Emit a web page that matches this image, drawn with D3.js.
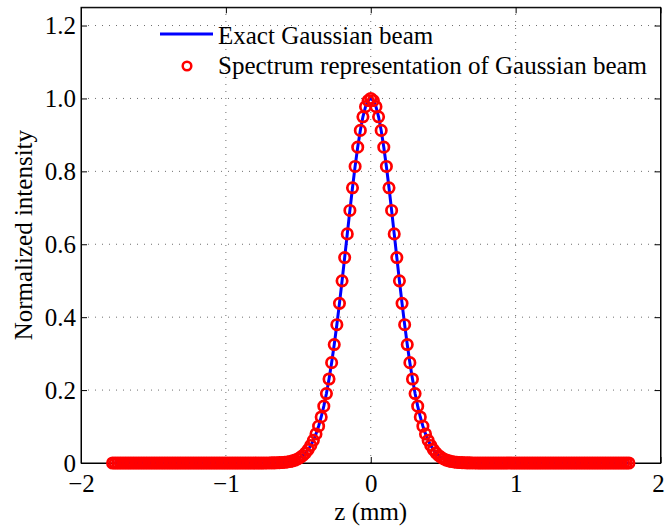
<!DOCTYPE html>
<html>
<head>
<meta charset="utf-8">
<script src="https://cdn.jsdelivr.net/npm/d3@7"></script>
<style>
  html, body { margin: 0; padding: 0; background: #fff; }
  svg { display: block; font-family: "Liberation Serif", "Times New Roman", serif; }
</style>
</head>
<body>
<svg id="chart" width="665" height="527"></svg>
<script>
// ---------- data ----------
const xTicks = [-2, -1, 0, 1, 2];
const xTickLabels = ["\u22122", "\u22121", "0", "1", "2"];
const yTicks = [0, 0.2, 0.4, 0.6, 0.8, 1.0, 1.2];
const yTickLabels = ["0", "0.2", "0.4", "0.6", "0.8", "1.0", "1.2"];
const xLabel = "z (mm)";
const yLabel = "Normalized intensity";
const seriesNames = ["Exact Gaussian beam", "Spectrum representation of Gaussian beam"];

// sample positions (mm)
const zSamples = [
 -1.782,-1.764,-1.746,-1.728,-1.71,-1.692,-1.674,-1.656,-1.638,-1.62,
 -1.602,-1.584,-1.566,-1.548,-1.53,-1.512,-1.494,-1.476,-1.458,-1.44,
 -1.422,-1.404,-1.386,-1.368,-1.35,-1.332,-1.314,-1.296,-1.278,-1.26,
 -1.242,-1.224,-1.206,-1.188,-1.17,-1.152,-1.134,-1.116,-1.098,-1.08,
 -1.062,-1.044,-1.026,-1.008,-0.99,-0.972,-0.954,-0.936,-0.918,-0.9,
 -0.882,-0.864,-0.846,-0.828,-0.81,-0.792,-0.774,-0.756,-0.738,-0.72,
 -0.702,-0.684,-0.666,-0.648,-0.63,-0.612,-0.594,-0.576,-0.558,-0.54,
 -0.522,-0.504,-0.486,-0.468,-0.45,-0.432,-0.414,-0.396,-0.378,-0.36,
 -0.342,-0.324,-0.306,-0.288,-0.27,-0.252,-0.234,-0.216,-0.198,-0.18,
 -0.162,-0.144,-0.126,-0.108,-0.09,-0.072,-0.054,-0.036,-0.018,0,
 0.018,0.036,0.054,0.072,0.09,0.108,0.126,0.144,0.162,0.18,
 0.198,0.216,0.234,0.252,0.27,0.288,0.306,0.324,0.342,0.36,
 0.378,0.396,0.414,0.432,0.45,0.468,0.486,0.504,0.522,0.54,
 0.558,0.576,0.594,0.612,0.63,0.648,0.666,0.684,0.702,0.72,
 0.738,0.756,0.774,0.792,0.81,0.828,0.846,0.864,0.882,0.9,
 0.918,0.936,0.954,0.972,0.99,1.008,1.026,1.044,1.062,1.08,
 1.098,1.116,1.134,1.152,1.17,1.188,1.206,1.224,1.242,1.26,
 1.278,1.296,1.314,1.332,1.35,1.368,1.386,1.404,1.422,1.44,
 1.458,1.476,1.494,1.512,1.53,1.548,1.566,1.584,1.602,1.62,
 1.638,1.656,1.674,1.692,1.71,1.728,1.746,1.764,1.782
];

// spectrum-representation intensity (markers)
const spectrumIntensity = [
 0,0,0,0,0,0,0,0,0,0,
 0,0,0,0,0,0,0,0,0,0,
 0,0,0,0,0,0,0,0,0,0,
 0,0,0,0,0,0,0,0,0,0,
 0,0,0,0,0,0,0,0,0,0,
 0,0,0,0,0,0,0,0,0,0.0001,
 0.0002,0.0003,0.0004,0.0006,0.0009,0.0013,0.0019,0.0028,0.0040,0.0057,
 0.0080,0.0111,0.0153,0.0207,0.0278,0.0368,0.0481,0.0623,0.0797,0.1009,
 0.1262,0.1560,0.1906,0.2304,0.2752,0.3250,0.3794,0.4379,0.4996,0.5636,
 0.6284,0.6928,0.7550,0.8135,0.8664,0.9123,0.9497,0.9773,0.9943,1.0,
 0.9943,0.9773,0.9497,0.9123,0.8664,0.8135,0.7550,0.6928,0.6284,0.5636,
 0.4996,0.4379,0.3794,0.3250,0.2752,0.2304,0.1906,0.1560,0.1262,0.1009,
 0.0797,0.0623,0.0481,0.0368,0.0278,0.0207,0.0153,0.0111,0.0080,0.0057,
 0.0040,0.0028,0.0019,0.0013,0.0009,0.0006,0.0004,0.0003,0.0002,0.0001,
 0,0,0,0,0,0,0,0,0,0,
 0,0,0,0,0,0,0,0,0,0,
 0,0,0,0,0,0,0,0,0,0,
 0,0,0,0,0,0,0,0,0,0,
 0,0,0,0,0,0,0,0,0,0,
 0,0,0,0,0,0,0,0,0
];

// exact Gaussian beam (line)
const zExact = [
 -1.782,-0.738,-0.72,-0.702,-0.684,-0.666,-0.648,-0.63,-0.612,-0.594,-0.576,-0.558,-0.54,
 -0.522,-0.504,-0.486,-0.468,-0.45,-0.432,-0.414,-0.396,-0.378,-0.36,
 -0.342,-0.324,-0.306,-0.288,-0.27,-0.252,-0.234,-0.216,-0.198,-0.18,
 -0.162,-0.144,-0.126,-0.108,-0.09,-0.072,-0.054,-0.036,-0.018,0,
 0.018,0.036,0.054,0.072,0.09,0.108,0.126,0.144,0.162,0.18,
 0.198,0.216,0.234,0.252,0.27,0.288,0.306,0.324,0.342,0.36,
 0.378,0.396,0.414,0.432,0.45,0.468,0.486,0.504,0.522,0.54,
 0.558,0.576,0.594,0.612,0.63,0.648,0.666,0.684,0.702,0.72,0.738,1.782
];
const exactIntensity = [
 0,0,0.0001,
 0.0002,0.0003,0.0004,0.0006,0.0009,0.0013,0.0019,0.0028,0.0040,0.0057,
 0.0080,0.0111,0.0153,0.0207,0.0278,0.0368,0.0481,0.0623,0.0797,0.1009,
 0.1262,0.1560,0.1906,0.2304,0.2752,0.3250,0.3794,0.4379,0.4996,0.5636,
 0.6284,0.6928,0.7550,0.8135,0.8664,0.9123,0.9497,0.9773,0.9943,1.0,
 0.9943,0.9773,0.9497,0.9123,0.8664,0.8135,0.7550,0.6928,0.6284,0.5636,
 0.4996,0.4379,0.3794,0.3250,0.2752,0.2304,0.1906,0.1560,0.1262,0.1009,
 0.0797,0.0623,0.0481,0.0368,0.0278,0.0207,0.0153,0.0111,0.0080,0.0057,
 0.0040,0.0028,0.0019,0.0013,0.0009,0.0006,0.0004,0.0003,0.0002,0.0001,0,0
];

// ---------- layout ----------
const plot = { left: 81, right: 660.5, top: 7.3, bottom: 463 };
const FONT = 25;

const svg = d3.select("#chart");
const x = d3.scaleLinear().domain([-2, 2]).range([plot.left, plot.right]);
const y = d3.scaleLinear().domain([0, 1.25]).range([plot.bottom, plot.top]);

// grid
const grid = svg.append("g").attr("stroke", "#6e6e6e").attr("stroke-width", 1)
  .attr("stroke-dasharray", "1,6").attr("fill", "none");
grid.selectAll("line.gx").data(xTicks.filter(d => d > -2 && d < 2)).join("line")
  .attr("x1", d => x(d)).attr("x2", d => x(d))
  .attr("y1", plot.bottom).attr("y2", plot.top);
grid.selectAll("line.gy").data(yTicks.filter(d => d > 0)).join("line")
  .attr("y1", d => y(d)).attr("y2", d => y(d))
  .attr("x1", plot.left).attr("x2", plot.right);

// axes (MATLAB style, inward ticks on all sides)
function styleAxis(g) {
  g.selectAll("path").attr("stroke", "#000").attr("stroke-width", 1);
  g.selectAll("line").attr("stroke", "#000").attr("stroke-width", 1);
  g.selectAll("text").attr("font-family", "'Liberation Serif', 'Times New Roman', serif")
    .attr("font-size", FONT).attr("fill", "#000");
}
const xAxis = d3.axisBottom(x).tickValues(xTicks)
  .tickFormat((d, i) => xTickLabels[i]).tickSizeInner(-6).tickSizeOuter(0).tickPadding(11);
const yAxis = d3.axisLeft(y).tickValues(yTicks)
  .tickFormat((d, i) => yTickLabels[i]).tickSizeInner(-6).tickSizeOuter(0).tickPadding(5);
const xAxisTop = d3.axisTop(x).tickValues(xTicks).tickFormat("").tickSizeInner(-6).tickSizeOuter(0);
const yAxisRight = d3.axisRight(y).tickValues(yTicks).tickFormat("").tickSizeInner(-6).tickSizeOuter(0);

const gx = svg.append("g").attr("transform", `translate(0,${plot.bottom})`).call(xAxis).call(styleAxis);
// keep the last label inside the canvas edge
gx.selectAll(".tick").filter(d => d === 2).select("text").attr("dx", -2.5);
svg.append("g").attr("transform", `translate(${plot.left},0)`).call(yAxis).call(styleAxis);
svg.append("g").attr("transform", `translate(0,${plot.top})`).call(xAxisTop).call(styleAxis);
svg.append("g").attr("transform", `translate(${plot.right},0)`).call(yAxisRight).call(styleAxis);
svg.append("rect").attr("x", plot.left).attr("y", plot.top)
  .attr("width", plot.right - plot.left).attr("height", plot.bottom - plot.top)
  .attr("fill", "none").attr("stroke", "#000").attr("stroke-width", 1);

// exact line
const line = d3.line().x((d, i) => x(zExact[i])).y(d => y(d));
svg.append("path").datum(exactIntensity).attr("d", line)
  .attr("fill", "none").attr("stroke", "#0000ff").attr("stroke-width", 3);

// markers
svg.append("g").selectAll("circle").data(spectrumIntensity).join("circle")
  .attr("cx", (d, i) => x(zSamples[i])).attr("cy", d => y(d)).attr("r", 5.2)
  .attr("fill", "none").attr("stroke", "#ff0000").attr("stroke-width", 2.7);

// axis labels
svg.append("text").attr("x", x(0)).attr("y", 520).attr("text-anchor", "middle")
  .attr("font-size", FONT).text(xLabel);
svg.append("text").attr("transform", `translate(32,${(plot.top + plot.bottom) / 2}) rotate(-90)`)
  .attr("text-anchor", "middle").attr("font-size", FONT).text(yLabel);

// legend (no box)
const lg = svg.append("g");
lg.append("line").attr("x1", 160).attr("x2", 213).attr("y1", 34).attr("y2", 34)
  .attr("stroke", "#0000ff").attr("stroke-width", 3);
lg.append("circle").attr("cx", 187).attr("cy", 66).attr("r", 4.3)
  .attr("fill", "none").attr("stroke", "#ff0000").attr("stroke-width", 2.5);
lg.append("text").attr("x", 218).attr("y", 44).attr("font-size", FONT).text(seriesNames[0]);
lg.append("text").attr("x", 218).attr("y", 74).attr("font-size", FONT).text(seriesNames[1]);
</script>
</body>
</html>
